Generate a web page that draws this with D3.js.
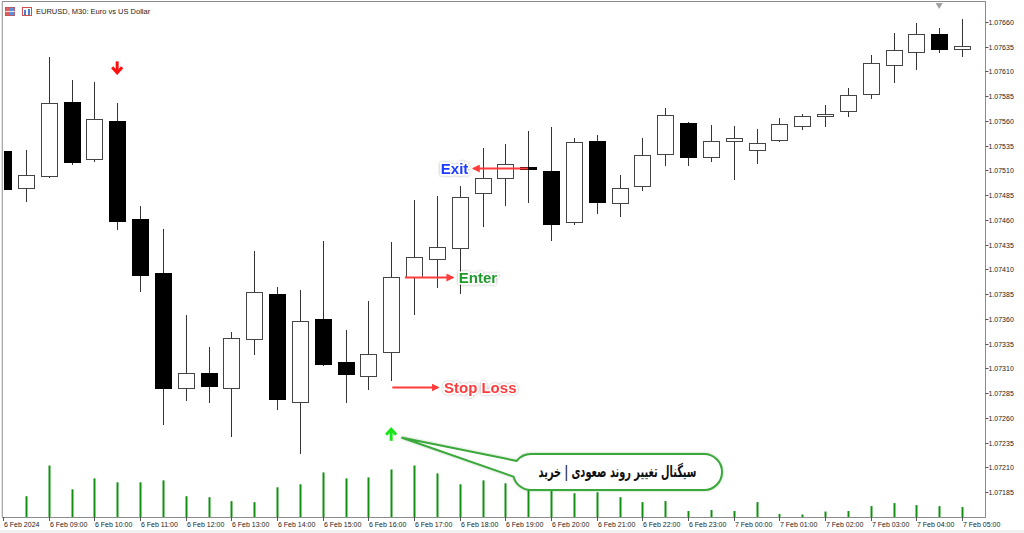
<!DOCTYPE html>
<html>
<head>
  <meta charset="utf-8" />
  <title>EURUSD, M30</title>
  <script src="https://cdnjs.cloudflare.com/ajax/libs/d3/7.8.5/d3.min.js"></script>
  <style>
    html, body { margin: 0; padding: 0; background: #fff; }
    svg { display: block; }
    .lbl { font-family: "Liberation Sans", Arial, sans-serif; font-size: 7px; fill: #222; }
  </style>
</head>
<body>
<div id="chart"></div>
<script>
  // bar times (M30)
  var times = [
    "2024-02-06 08:00", "2024-02-06 08:30", "2024-02-06 09:00", "2024-02-06 09:30",
    "2024-02-06 10:00", "2024-02-06 10:30", "2024-02-06 11:00", "2024-02-06 11:30",
    "2024-02-06 12:00", "2024-02-06 12:30", "2024-02-06 13:00", "2024-02-06 13:30",
    "2024-02-06 14:00", "2024-02-06 14:30", "2024-02-06 15:00", "2024-02-06 15:30",
    "2024-02-06 16:00", "2024-02-06 16:30", "2024-02-06 17:00", "2024-02-06 17:30",
    "2024-02-06 18:00", "2024-02-06 18:30", "2024-02-06 19:00", "2024-02-06 19:30",
    "2024-02-06 20:00", "2024-02-06 20:30", "2024-02-06 21:00", "2024-02-06 21:30",
    "2024-02-06 22:00", "2024-02-06 22:30", "2024-02-06 23:00", "2024-02-06 23:30",
    "2024-02-07 00:00", "2024-02-07 00:30", "2024-02-07 01:00", "2024-02-07 01:30",
    "2024-02-07 02:00", "2024-02-07 02:30", "2024-02-07 03:00", "2024-02-07 03:30",
    "2024-02-07 04:00", "2024-02-07 04:30", "2024-02-07 05:00"
  ];

  var opens = [
    1.07530, 1.07492, 1.07504, 1.07579, 1.07521, 1.07560, 1.07461, 1.07406,
    1.07290, 1.07305, 1.07290, 1.07340, 1.07385, 1.07276, 1.07360, 1.07317,
    1.07302, 1.07327, 1.07402, 1.07421, 1.07432, 1.07487, 1.07502, 1.07513,
    1.07509, 1.07458, 1.07540, 1.07477, 1.07494, 1.07527, 1.07558, 1.07523,
    1.07540, 1.07531, 1.07541, 1.07555, 1.07565, 1.07570, 1.07587, 1.07616,
    1.07630, 1.07648, 1.07633
  ];
  var highs = [
    1.07531, 1.07531, 1.07624, 1.07601, 1.07599, 1.07578, 1.07474, 1.07451,
    1.07364, 1.07332, 1.07347, 1.07429, 1.07392, 1.07389, 1.07439, 1.07349,
    1.07378, 1.07438, 1.07480, 1.07484, 1.07494, 1.07533, 1.07537, 1.07550,
    1.07554, 1.07543, 1.07546, 1.07505, 1.07543, 1.07573, 1.07559, 1.07556,
    1.07555, 1.07552, 1.07563, 1.07567, 1.07576, 1.07593, 1.07626, 1.07649,
    1.07659, 1.07654, 1.07663
  ];
  var lows = [
    1.07490, 1.07479, 1.07503, 1.07516, 1.07519, 1.07451, 1.07388, 1.07254,
    1.07278, 1.07276, 1.07242, 1.07325, 1.07269, 1.07225, 1.07313, 1.07276,
    1.07289, 1.07298, 1.07365, 1.07392, 1.07386, 1.07454, 1.07475, 1.07478,
    1.07440, 1.07456, 1.07467, 1.07464, 1.07490, 1.07515, 1.07515, 1.07519,
    1.07501, 1.07517, 1.07540, 1.07552, 1.07555, 1.07565, 1.07583, 1.07599,
    1.07612, 1.07630, 1.07625
  ];
  var closes = [
    1.07491, 1.07505, 1.07578, 1.07518, 1.07562, 1.07459, 1.07404, 1.07290,
    1.07305, 1.07292, 1.07341, 1.07387, 1.07279, 1.07358, 1.07314, 1.07304,
    1.07325, 1.07402, 1.07423, 1.07433, 1.07483, 1.07502, 1.07516, 1.07511,
    1.07456, 1.07539, 1.07478, 1.07492, 1.07526, 1.07566, 1.07524, 1.07540,
    1.07543, 1.07538, 1.07557, 1.07565, 1.07567, 1.07586, 1.07618, 1.07632,
    1.07648, 1.07633, 1.07636
  ];
  // tick volume
  var volumes = [
    1200, 840, 2080, 1120, 1560, 1400, 1400, 1480,
    840, 800, 640, 600, 1200, 1320, 1800, 1560,
    1600, 1920, 2080, 1760, 1320, 1480, 1360, 1400,
    1200, 960, 1000, 800, 600, 640, 240, 280,
    240, 600, 120, 100, 220, 240, 440, 560,
    480, 440, 400
  ];

  // signal arrows (bar index, price)
  var sellSignal = { bar: 5, price: 1.07614 };
  var buySignal = { bar: 17, price: 1.07243 };

  // trade notes: arrow from bar a to bar b at a price
  var notes = [
    { text: "Exit", color: "#1f3bff", price: 1.07512, from: 23, to: 20.6, side: "left" },
    { text: "Enter", color: "#1f9a2c", price: 1.07402, from: 17.6, to: 19.7, side: "right" },
    { text: "Stop Loss", color: "#ff3b3b", price: 1.07291, from: 17.05, to: 19.05, side: "right" }
  ];
  var calloutText = "سیگنال تغییر روند صعودی | خرید";

  var W = 1024, H = 533;
  var pL = 3, pR = 985, pT = 2, pB = 517;

  var parse = d3.utcParse("%Y-%m-%d %H:%M");
  var bars = times.map(function(t, i) {
    return { t: parse(t), o: opens[i], h: highs[i], l: lows[i], c: closes[i], v: volumes[i] };
  });

  var x = d3.scaleUtc()
    .domain([bars[0].t, bars[bars.length - 1].t])
    .range([3, 962]);
  var xi = d3.scaleLinear().domain([0, bars.length - 1]).range(x.range());

  var y = d3.scaleLinear().domain([1.0716, 1.0768]).range([pB, pT]);
  var yv = d3.scaleLinear().domain([0, d3.max(volumes)]).range([pB, pB - 0.1 * (pB - pT)]);

  var svg = d3.select("#chart").append("svg")
    .attr("width", W).attr("height", H);

  var defs = svg.append("defs");
  defs.append("clipPath").attr("id", "plot")
    .append("rect").attr("x", pL + 1).attr("y", pT + 1)
    .attr("width", pR - pL - 1).attr("height", pB - pT - 1);
  defs.append("clipPath").attr("id", "volclip")
    .append("rect").attr("x", pL + 3).attr("y", pT + 1)
    .attr("width", pR - pL - 3).attr("height", pB - pT - 1);
  defs.append("marker").attr("id", "head")
    .attr("viewBox", "0 0 10 10").attr("refX", 8).attr("refY", 5)
    .attr("markerWidth", 4).attr("markerHeight", 4).attr("orient", "auto")
    .append("path").attr("d", "M0,0L10,5L0,10z").attr("fill", "#ff3b3b");
  var glow = defs.append("filter").attr("id", "glow")
    .attr("x", "-20%").attr("y", "-40%").attr("width", "140%").attr("height", "180%");
  glow.append("feDropShadow").attr("dx", 0).attr("dy", 0).attr("stdDeviation", 1.6)
    .attr("flood-color", "#000").attr("flood-opacity", 0.35);
  var shade = defs.append("filter").attr("id", "shade")
    .attr("x", "-10%").attr("y", "-30%").attr("width", "120%").attr("height", "160%");
  shade.append("feDropShadow").attr("dx", 0).attr("dy", 0).attr("stdDeviation", 1.2)
    .attr("flood-color", "#2a7a2a").attr("flood-opacity", 0.4);

  // frame
  svg.append("rect")
    .attr("x", pL - 0.5).attr("y", pT - 0.5)
    .attr("width", pR - pL + 1).attr("height", pB - pT + 1)
    .attr("fill", "none").attr("stroke", "#8c8c8c").attr("stroke-width", 1);
  svg.append("line").attr("x1", pL - 1).attr("x2", pL - 1).attr("y1", pT).attr("y2", pB)
    .attr("stroke", "#c8c8c8");
  svg.append("rect").attr("x", 0).attr("y", 530).attr("width", W).attr("height", 3).attr("fill", "#f0f0f0");

  var plot = svg.append("g").attr("clip-path", "url(#plot)");

  // volumes
  svg.append("g").attr("clip-path", "url(#volclip)")
    .selectAll(".vol").data(bars).enter().append("line")
    .attr("class", "vol")
    .attr("x1", function(d) { return Math.round(x(d.t)) + 0.5; })
    .attr("x2", function(d) { return Math.round(x(d.t)) + 0.5; })
    .attr("y1", pB)
    .attr("y2", function(d) { return yv(d.v); })
    .attr("stroke", "#119011").attr("stroke-width", 2);

  // wicks
  plot.selectAll(".wick").data(bars).enter().append("line")
    .attr("class", "wick")
    .attr("x1", function(d) { return Math.round(x(d.t)) + 0.5; })
    .attr("x2", function(d) { return Math.round(x(d.t)) + 0.5; })
    .attr("y1", function(d) { return Math.round(y(d.h)); })
    .attr("y2", function(d) { return Math.round(y(d.l)) + 1; })
    .attr("stroke", "#333");

  // bodies
  plot.selectAll(".body").data(bars).enter().append("rect")
    .attr("class", "body")
    .attr("x", function(d) { return Math.round(x(d.t)) - 8 + 0.5; })
    .attr("width", 16)
    .attr("y", function(d) { return Math.round(y(Math.max(d.o, d.c))) + 0.5; })
    .attr("height", function(d) {
      return Math.max(2, Math.round(y(Math.min(d.o, d.c))) - Math.round(y(Math.max(d.o, d.c))));
    })
    .attr("fill", function(d) { return d.c < d.o ? "#000" : "#fff"; })
    .attr("stroke", function(d) { return d.c < d.o ? "#000" : "#444"; });

  // shift marker
  svg.append("path")
    .attr("d", d3.symbol().type(d3.symbolTriangle).size(22))
    .attr("transform", "translate(" + xi(41) + "," + (pT + 3) + ") rotate(180)")
    .attr("fill", "#a0a0a0");

  // signal arrows
  function arrow(cx, cy, dir, color) {
    var g = svg.append("g").attr("transform", "translate(" + cx + "," + cy + ") scale(1," + dir + ")");
    g.append("line").attr("x1", 0).attr("x2", 0).attr("y1", -6).attr("y2", 5)
      .attr("stroke", color).attr("stroke-width", 3);
    g.append("path").attr("d", "M-5,0L0,5.5L5,0")
      .attr("fill", "none").attr("stroke", color).attr("stroke-width", 3)
      .attr("stroke-linejoin", "miter");
  }
  arrow(xi(sellSignal.bar), y(sellSignal.price), 1, "#ff1010");
  arrow(xi(buySignal.bar), y(buySignal.price), -1, "#19e619");

  // trade notes
  notes.forEach(function(n) {
    var yy = Math.round(y(n.price)) + 0.5;
    svg.append("line")
      .attr("x1", xi(n.from)).attr("x2", xi(n.to))
      .attr("y1", yy).attr("y2", yy)
      .attr("stroke", "#ff3b3b").attr("stroke-width", 2)
      .attr("marker-end", "url(#head)");
    var tx = n.side === "left" ? xi(n.to) - 5 : xi(n.to) + 6;
    svg.append("text")
      .attr("x", tx).attr("y", yy + 5)
      .attr("text-anchor", n.side === "left" ? "end" : "start")
      .attr("font-family", "Liberation Sans, Arial, sans-serif")
      .attr("font-size", 15).attr("font-weight", "bold")
      .attr("fill", n.color)
      .attr("stroke", "#fff").attr("stroke-width", 3).attr("paint-order", "stroke")
      .attr("filter", "url(#glow)")
      .text(n.text);
  });

  // callout bubble
  var tip = [xi(buySignal.bar) + 11, y(buySignal.price) + 3];
  var bx0 = 513, bx1 = 722, by0 = 454, by1 = 490, r = (by1 - by0) / 2;
  var cxl = bx0 + r, cyl = by0 + r;
  var a1 = [cxl + r * Math.cos(-2.48), cyl + r * Math.sin(-2.48)];
  var a2 = [cxl + r * Math.cos(2.88), cyl + r * Math.sin(2.88)];
  var bubble = "M" + tip + "L" + a1 +
    "A" + r + "," + r + " 0 0 1 " + cxl + "," + by0 +
    "L" + (bx1 - r) + "," + by0 +
    "A" + r + "," + r + " 0 0 1 " + (bx1 - r) + "," + by1 +
    "L" + cxl + "," + by1 +
    "A" + r + "," + r + " 0 0 1 " + a2 + "Z";
  svg.append("path").attr("d", bubble)
    .attr("fill", "#fff").attr("stroke", "#3aa83a").attr("stroke-width", 2)
    .attr("stroke-linejoin", "round").attr("filter", "url(#shade)");
  var ctx = (bx0 + bx1) / 2;
  var ct = svg.append("text")
    .attr("x", 0).attr("y", 0)
    .attr("text-anchor", "middle").attr("direction", "rtl")
    .attr("font-family", "DejaVu Sans, sans-serif")
    .attr("font-size", 16).attr("font-weight", "bold").attr("fill", "#111")
    .text(calloutText);
  var cw = ct.node().getComputedTextLength();
  ct.attr("transform", "translate(" + ctx + "," + (cyl + 5) + ") scale(" + Math.min(1, 158 / cw) + ",1)");

  // price axis
  var priceTicks = d3.range(20).map(function(i) { return 1.07185 + i * 0.00025; });
  var ya = svg.append("g").attr("transform", "translate(" + (pR + 0.5) + ",0)");
  ya.selectAll("line").data(priceTicks).enter().append("line")
    .attr("x1", 0).attr("x2", 3)
    .attr("y1", function(d) { return Math.round(y(d)) + 0.5; })
    .attr("y2", function(d) { return Math.round(y(d)) + 0.5; })
    .attr("stroke", "#555");
  ya.selectAll("text").data(priceTicks).enter().append("text")
    .attr("class", "lbl")
    .attr("x", 3).attr("y", function(d) { return Math.round(y(d)) + 2.5; })
    .text(function(d) { return d.toFixed(5); });

  // time axis
  var hourTicks = x.ticks(d3.utcHour.every(1));
  var fmtFirst = d3.utcFormat("%-d %b %Y"), fmt = d3.utcFormat("%-d %b %H:%M");
  var xa = svg.append("g");
  xa.selectAll("line").data(hourTicks).enter().append("line")
    .attr("x1", function(d) { return Math.round(x(d)) + 0.5; })
    .attr("x2", function(d) { return Math.round(x(d)) + 0.5; })
    .attr("y1", pB).attr("y2", pB + 4)
    .attr("stroke", "#555");
  xa.selectAll("text").data(hourTicks).enter().append("text")
    .attr("class", "lbl")
    .attr("x", function(d) { return Math.round(x(d)) + 1; })
    .attr("y", pB + 10)
    .text(function(d, i) { return i === 0 ? fmtFirst(d) : fmt(d); });

  // header
  var icon = svg.append("g").attr("transform", "translate(5,7)");
  icon.append("rect").attr("width", 5).attr("height", 9).attr("fill", "#e06060");
  icon.append("rect").attr("x", 5).attr("width", 5).attr("height", 9).attr("fill", "#5b8fd6");
  icon.append("rect").attr("x", 0.5).attr("y", 0.5).attr("width", 9).attr("height", 8)
    .attr("fill", "none").attr("stroke", "#c05050").attr("stroke-width", 0.8);
  icon.append("line").attr("x1", 0).attr("x2", 10).attr("y1", 4.5).attr("y2", 4.5).attr("stroke", "#fff").attr("stroke-width", 0.8);
  var icon2 = svg.append("g").attr("transform", "translate(22,7)");
  icon2.append("rect").attr("x", 0.5).attr("y", 0.5).attr("width", 9).attr("height", 8)
    .attr("fill", "#fff").attr("stroke", "#d05050").attr("stroke-width", 1);
  icon2.append("rect").attr("x", 2).attr("y", 3).attr("width", 2).attr("height", 5).attr("fill", "#4a7fd0");
  icon2.append("rect").attr("x", 6).attr("y", 2).attr("width", 2).attr("height", 6).attr("fill", "#4a7fd0");
  svg.append("text").attr("class", "lbl")
    .attr("x", 36).attr("y", 14).style("font-size", "7.5px")
    .text("EURUSD, M30:  Euro vs US Dollar");
</script>
</body>
</html>
